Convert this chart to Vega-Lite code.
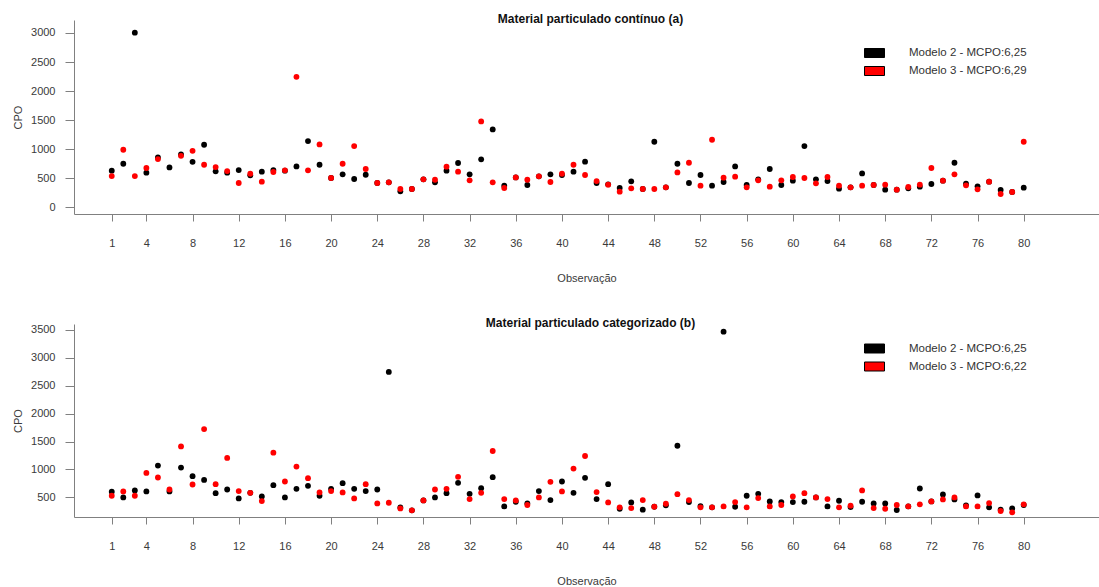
{
 "$schema": "https://vega.github.io/schema/vega-lite/v6.json",
 "padding": {"left": 12, "top": 13, "right": 0, "bottom": 0},
 "background": "white",
 "bounds": "flush",
 "spacing": 110,
 "config": {
  "view": {"stroke": null},
  "font": "Liberation Sans",
  "axis": {"grid": false, "domainColor": "#808080", "tickColor": "#808080", "labelColor": "#3a3a3a", "titleColor": "#3a3a3a", "labelFontSize": 11, "titleFontSize": 11, "titleFontWeight": "normal", "labelFont": "Liberation Sans", "titleFont": "Liberation Sans"},
  "title": {"fontSize": 12, "fontWeight": "bold", "font": "Liberation Sans", "color": "#111111"},
  "legend": {"title": null, "orient": "none", "padding": 0, "symbolType": "M-1,-0.45H1V0.45H-1Z", "symbolSize": 400, "symbolStrokeColor": "#000000", "symbolStrokeWidth": 1, "symbolOpacity": 1, "labelFontSize": 11.5, "labelColor": "#333333", "labelFont": "Liberation Sans", "labelOffset": 24, "rowPadding": 1}
 },
 "datasets": {
  "a": [
   {"o":1,"m":"Modelo 2 - MCPO:6,25","v":630},{"o":2,"m":"Modelo 2 - MCPO:6,25","v":750},{"o":3,"m":"Modelo 2 - MCPO:6,25","v":3005},{"o":4,"m":"Modelo 2 - MCPO:6,25","v":596},{"o":5,"m":"Modelo 2 - MCPO:6,25","v":859},{"o":6,"m":"Modelo 2 - MCPO:6,25","v":687},{"o":7,"m":"Modelo 2 - MCPO:6,25","v":910},{"o":8,"m":"Modelo 2 - MCPO:6,25","v":783},{"o":9,"m":"Modelo 2 - MCPO:6,25","v":1077},{"o":10,"m":"Modelo 2 - MCPO:6,25","v":619},
   {"o":11,"m":"Modelo 2 - MCPO:6,25","v":596},{"o":12,"m":"Modelo 2 - MCPO:6,25","v":641},{"o":13,"m":"Modelo 2 - MCPO:6,25","v":550},{"o":14,"m":"Modelo 2 - MCPO:6,25","v":613},{"o":15,"m":"Modelo 2 - MCPO:6,25","v":641},{"o":16,"m":"Modelo 2 - MCPO:6,25","v":630},{"o":17,"m":"Modelo 2 - MCPO:6,25","v":704},{"o":18,"m":"Modelo 2 - MCPO:6,25","v":1140},{"o":19,"m":"Modelo 2 - MCPO:6,25","v":733},{"o":20,"m":"Modelo 2 - MCPO:6,25","v":504},
   {"o":21,"m":"Modelo 2 - MCPO:6,25","v":567},{"o":22,"m":"Modelo 2 - MCPO:6,25","v":487},{"o":23,"m":"Modelo 2 - MCPO:6,25","v":561},{"o":24,"m":"Modelo 2 - MCPO:6,25","v":418},{"o":25,"m":"Modelo 2 - MCPO:6,25","v":430},{"o":26,"m":"Modelo 2 - MCPO:6,25","v":275},{"o":27,"m":"Modelo 2 - MCPO:6,25","v":315},{"o":28,"m":"Modelo 2 - MCPO:6,25","v":481},{"o":29,"m":"Modelo 2 - MCPO:6,25","v":430},{"o":30,"m":"Modelo 2 - MCPO:6,25","v":630},
   {"o":31,"m":"Modelo 2 - MCPO:6,25","v":762},{"o":32,"m":"Modelo 2 - MCPO:6,25","v":567},{"o":33,"m":"Modelo 2 - MCPO:6,25","v":825},{"o":34,"m":"Modelo 2 - MCPO:6,25","v":1340},{"o":35,"m":"Modelo 2 - MCPO:6,25","v":372},{"o":36,"m":"Modelo 2 - MCPO:6,25","v":515},{"o":37,"m":"Modelo 2 - MCPO:6,25","v":384},{"o":38,"m":"Modelo 2 - MCPO:6,25","v":533},{"o":39,"m":"Modelo 2 - MCPO:6,25","v":567},{"o":40,"m":"Modelo 2 - MCPO:6,25","v":556},
   {"o":41,"m":"Modelo 2 - MCPO:6,25","v":613},{"o":42,"m":"Modelo 2 - MCPO:6,25","v":785},{"o":43,"m":"Modelo 2 - MCPO:6,25","v":418},{"o":44,"m":"Modelo 2 - MCPO:6,25","v":395},{"o":45,"m":"Modelo 2 - MCPO:6,25","v":332},{"o":46,"m":"Modelo 2 - MCPO:6,25","v":447},{"o":47,"m":"Modelo 2 - MCPO:6,25","v":315},{"o":48,"m":"Modelo 2 - MCPO:6,25","v":1128},{"o":49,"m":"Modelo 2 - MCPO:6,25","v":344},{"o":50,"m":"Modelo 2 - MCPO:6,25","v":750},
   {"o":51,"m":"Modelo 2 - MCPO:6,25","v":418},{"o":52,"m":"Modelo 2 - MCPO:6,25","v":556},{"o":53,"m":"Modelo 2 - MCPO:6,25","v":372},{"o":54,"m":"Modelo 2 - MCPO:6,25","v":435},{"o":55,"m":"Modelo 2 - MCPO:6,25","v":704},{"o":56,"m":"Modelo 2 - MCPO:6,25","v":384},{"o":57,"m":"Modelo 2 - MCPO:6,25","v":481},{"o":58,"m":"Modelo 2 - MCPO:6,25","v":659},{"o":59,"m":"Modelo 2 - MCPO:6,25","v":384},{"o":60,"m":"Modelo 2 - MCPO:6,25","v":458},
   {"o":61,"m":"Modelo 2 - MCPO:6,25","v":1054},{"o":62,"m":"Modelo 2 - MCPO:6,25","v":481},{"o":63,"m":"Modelo 2 - MCPO:6,25","v":452},{"o":64,"m":"Modelo 2 - MCPO:6,25","v":321},{"o":65,"m":"Modelo 2 - MCPO:6,25","v":344},{"o":66,"m":"Modelo 2 - MCPO:6,25","v":584},{"o":67,"m":"Modelo 2 - MCPO:6,25","v":384},{"o":68,"m":"Modelo 2 - MCPO:6,25","v":304},{"o":69,"m":"Modelo 2 - MCPO:6,25","v":304},{"o":70,"m":"Modelo 2 - MCPO:6,25","v":326},
   {"o":71,"m":"Modelo 2 - MCPO:6,25","v":355},{"o":72,"m":"Modelo 2 - MCPO:6,25","v":401},{"o":73,"m":"Modelo 2 - MCPO:6,25","v":458},{"o":74,"m":"Modelo 2 - MCPO:6,25","v":767},{"o":75,"m":"Modelo 2 - MCPO:6,25","v":407},{"o":76,"m":"Modelo 2 - MCPO:6,25","v":361},{"o":77,"m":"Modelo 2 - MCPO:6,25","v":441},{"o":78,"m":"Modelo 2 - MCPO:6,25","v":298},{"o":79,"m":"Modelo 2 - MCPO:6,25","v":263},{"o":80,"m":"Modelo 2 - MCPO:6,25","v":338},
   {"o":1,"m":"Modelo 3 - MCPO:6,29","v":538},{"o":2,"m":"Modelo 3 - MCPO:6,29","v":991},{"o":3,"m":"Modelo 3 - MCPO:6,29","v":538},{"o":4,"m":"Modelo 3 - MCPO:6,29","v":676},{"o":5,"m":"Modelo 3 - MCPO:6,29","v":830},{"o":7,"m":"Modelo 3 - MCPO:6,29","v":886},{"o":8,"m":"Modelo 3 - MCPO:6,29","v":972},{"o":9,"m":"Modelo 3 - MCPO:6,29","v":733},{"o":10,"m":"Modelo 3 - MCPO:6,29","v":693},
   {"o":11,"m":"Modelo 3 - MCPO:6,29","v":624},{"o":12,"m":"Modelo 3 - MCPO:6,29","v":418},{"o":13,"m":"Modelo 3 - MCPO:6,29","v":578},{"o":14,"m":"Modelo 3 - MCPO:6,29","v":441},{"o":15,"m":"Modelo 3 - MCPO:6,29","v":607},{"o":16,"m":"Modelo 3 - MCPO:6,29","v":636},{"o":17,"m":"Modelo 3 - MCPO:6,29","v":2245},{"o":18,"m":"Modelo 3 - MCPO:6,29","v":636},{"o":19,"m":"Modelo 3 - MCPO:6,29","v":1082},{"o":20,"m":"Modelo 3 - MCPO:6,29","v":504},
   {"o":21,"m":"Modelo 3 - MCPO:6,29","v":750},{"o":22,"m":"Modelo 3 - MCPO:6,29","v":1054},{"o":23,"m":"Modelo 3 - MCPO:6,29","v":659},{"o":24,"m":"Modelo 3 - MCPO:6,29","v":418},{"o":25,"m":"Modelo 3 - MCPO:6,29","v":430},{"o":26,"m":"Modelo 3 - MCPO:6,29","v":315},{"o":27,"m":"Modelo 3 - MCPO:6,29","v":315},{"o":28,"m":"Modelo 3 - MCPO:6,29","v":481},{"o":29,"m":"Modelo 3 - MCPO:6,29","v":475},{"o":30,"m":"Modelo 3 - MCPO:6,29","v":699},
   {"o":31,"m":"Modelo 3 - MCPO:6,29","v":613},{"o":32,"m":"Modelo 3 - MCPO:6,29","v":464},{"o":33,"m":"Modelo 3 - MCPO:6,29","v":1478},{"o":34,"m":"Modelo 3 - MCPO:6,29","v":430},{"o":35,"m":"Modelo 3 - MCPO:6,29","v":332},{"o":36,"m":"Modelo 3 - MCPO:6,29","v":515},{"o":37,"m":"Modelo 3 - MCPO:6,29","v":475},{"o":38,"m":"Modelo 3 - MCPO:6,29","v":533},{"o":39,"m":"Modelo 3 - MCPO:6,29","v":435},{"o":40,"m":"Modelo 3 - MCPO:6,29","v":578},
   {"o":41,"m":"Modelo 3 - MCPO:6,29","v":733},{"o":42,"m":"Modelo 3 - MCPO:6,29","v":556},{"o":43,"m":"Modelo 3 - MCPO:6,29","v":452},{"o":44,"m":"Modelo 3 - MCPO:6,29","v":389},{"o":45,"m":"Modelo 3 - MCPO:6,29","v":269},{"o":46,"m":"Modelo 3 - MCPO:6,29","v":326},{"o":47,"m":"Modelo 3 - MCPO:6,29","v":315},{"o":48,"m":"Modelo 3 - MCPO:6,29","v":315},{"o":49,"m":"Modelo 3 - MCPO:6,29","v":344},{"o":50,"m":"Modelo 3 - MCPO:6,29","v":601},
   {"o":51,"m":"Modelo 3 - MCPO:6,29","v":767},{"o":52,"m":"Modelo 3 - MCPO:6,29","v":372},{"o":53,"m":"Modelo 3 - MCPO:6,29","v":1163},{"o":54,"m":"Modelo 3 - MCPO:6,29","v":510},{"o":55,"m":"Modelo 3 - MCPO:6,29","v":527},{"o":56,"m":"Modelo 3 - MCPO:6,29","v":344},{"o":57,"m":"Modelo 3 - MCPO:6,29","v":464},{"o":58,"m":"Modelo 3 - MCPO:6,29","v":355},{"o":59,"m":"Modelo 3 - MCPO:6,29","v":464},{"o":60,"m":"Modelo 3 - MCPO:6,29","v":521},
   {"o":61,"m":"Modelo 3 - MCPO:6,29","v":504},{"o":62,"m":"Modelo 3 - MCPO:6,29","v":412},{"o":63,"m":"Modelo 3 - MCPO:6,29","v":521},{"o":64,"m":"Modelo 3 - MCPO:6,29","v":372},{"o":65,"m":"Modelo 3 - MCPO:6,29","v":344},{"o":66,"m":"Modelo 3 - MCPO:6,29","v":372},{"o":67,"m":"Modelo 3 - MCPO:6,29","v":384},{"o":68,"m":"Modelo 3 - MCPO:6,29","v":389},{"o":69,"m":"Modelo 3 - MCPO:6,29","v":304},{"o":70,"m":"Modelo 3 - MCPO:6,29","v":349},
   {"o":71,"m":"Modelo 3 - MCPO:6,29","v":389},{"o":72,"m":"Modelo 3 - MCPO:6,29","v":676},{"o":73,"m":"Modelo 3 - MCPO:6,29","v":458},{"o":74,"m":"Modelo 3 - MCPO:6,29","v":567},{"o":75,"m":"Modelo 3 - MCPO:6,29","v":378},{"o":76,"m":"Modelo 3 - MCPO:6,29","v":309},{"o":77,"m":"Modelo 3 - MCPO:6,29","v":441},{"o":78,"m":"Modelo 3 - MCPO:6,29","v":229},{"o":79,"m":"Modelo 3 - MCPO:6,29","v":263},{"o":80,"m":"Modelo 3 - MCPO:6,29","v":1128}
  ],
  "b": [
   {"o":1,"m":"Modelo 2 - MCPO:6,25","v":601},{"o":2,"m":"Modelo 2 - MCPO:6,25","v":500},{"o":3,"m":"Modelo 2 - MCPO:6,25","v":625},{"o":4,"m":"Modelo 2 - MCPO:6,25","v":607},{"o":5,"m":"Modelo 2 - MCPO:6,25","v":1069},{"o":6,"m":"Modelo 2 - MCPO:6,25","v":607},{"o":7,"m":"Modelo 2 - MCPO:6,25","v":1034},{"o":8,"m":"Modelo 2 - MCPO:6,25","v":880},{"o":9,"m":"Modelo 2 - MCPO:6,25","v":814},{"o":10,"m":"Modelo 2 - MCPO:6,25","v":577},
   {"o":11,"m":"Modelo 2 - MCPO:6,25","v":642},{"o":12,"m":"Modelo 2 - MCPO:6,25","v":482},{"o":13,"m":"Modelo 2 - MCPO:6,25","v":583},{"o":14,"m":"Modelo 2 - MCPO:6,25","v":518},{"o":15,"m":"Modelo 2 - MCPO:6,25","v":719},{"o":16,"m":"Modelo 2 - MCPO:6,25","v":500},{"o":17,"m":"Modelo 2 - MCPO:6,25","v":654},{"o":18,"m":"Modelo 2 - MCPO:6,25","v":708},{"o":19,"m":"Modelo 2 - MCPO:6,25","v":530},{"o":20,"m":"Modelo 2 - MCPO:6,25","v":654},
   {"o":21,"m":"Modelo 2 - MCPO:6,25","v":755},{"o":22,"m":"Modelo 2 - MCPO:6,25","v":654},{"o":23,"m":"Modelo 2 - MCPO:6,25","v":613},{"o":24,"m":"Modelo 2 - MCPO:6,25","v":642},{"o":25,"m":"Modelo 2 - MCPO:6,25","v":2745},{"o":26,"m":"Modelo 2 - MCPO:6,25","v":322},{"o":27,"m":"Modelo 2 - MCPO:6,25","v":269},{"o":28,"m":"Modelo 2 - MCPO:6,25","v":447},{"o":29,"m":"Modelo 2 - MCPO:6,25","v":500},{"o":30,"m":"Modelo 2 - MCPO:6,25","v":577},
   {"o":31,"m":"Modelo 2 - MCPO:6,25","v":761},{"o":32,"m":"Modelo 2 - MCPO:6,25","v":565},{"o":33,"m":"Modelo 2 - MCPO:6,25","v":666},{"o":34,"m":"Modelo 2 - MCPO:6,25","v":862},{"o":35,"m":"Modelo 2 - MCPO:6,25","v":340},{"o":36,"m":"Modelo 2 - MCPO:6,25","v":423},{"o":37,"m":"Modelo 2 - MCPO:6,25","v":393},{"o":38,"m":"Modelo 2 - MCPO:6,25","v":613},{"o":39,"m":"Modelo 2 - MCPO:6,25","v":453},{"o":40,"m":"Modelo 2 - MCPO:6,25","v":785},
   {"o":41,"m":"Modelo 2 - MCPO:6,25","v":583},{"o":42,"m":"Modelo 2 - MCPO:6,25","v":850},{"o":43,"m":"Modelo 2 - MCPO:6,25","v":470},{"o":44,"m":"Modelo 2 - MCPO:6,25","v":737},{"o":45,"m":"Modelo 2 - MCPO:6,25","v":298},{"o":46,"m":"Modelo 2 - MCPO:6,25","v":411},{"o":47,"m":"Modelo 2 - MCPO:6,25","v":281},{"o":48,"m":"Modelo 2 - MCPO:6,25","v":334},{"o":49,"m":"Modelo 2 - MCPO:6,25","v":358},{"o":50,"m":"Modelo 2 - MCPO:6,25","v":1425},
   {"o":51,"m":"Modelo 2 - MCPO:6,25","v":417},{"o":52,"m":"Modelo 2 - MCPO:6,25","v":346},{"o":53,"m":"Modelo 2 - MCPO:6,25","v":322},{"o":54,"m":"Modelo 2 - MCPO:6,25","v":3465},{"o":55,"m":"Modelo 2 - MCPO:6,25","v":334},{"o":56,"m":"Modelo 2 - MCPO:6,25","v":530},{"o":57,"m":"Modelo 2 - MCPO:6,25","v":565},{"o":58,"m":"Modelo 2 - MCPO:6,25","v":429},{"o":59,"m":"Modelo 2 - MCPO:6,25","v":417},{"o":60,"m":"Modelo 2 - MCPO:6,25","v":417},
   {"o":61,"m":"Modelo 2 - MCPO:6,25","v":423},{"o":62,"m":"Modelo 2 - MCPO:6,25","v":500},{"o":63,"m":"Modelo 2 - MCPO:6,25","v":340},{"o":64,"m":"Modelo 2 - MCPO:6,25","v":441},{"o":65,"m":"Modelo 2 - MCPO:6,25","v":328},{"o":66,"m":"Modelo 2 - MCPO:6,25","v":423},{"o":67,"m":"Modelo 2 - MCPO:6,25","v":393},{"o":68,"m":"Modelo 2 - MCPO:6,25","v":393},{"o":69,"m":"Modelo 2 - MCPO:6,25","v":275},{"o":70,"m":"Modelo 2 - MCPO:6,25","v":340},
   {"o":71,"m":"Modelo 2 - MCPO:6,25","v":660},{"o":72,"m":"Modelo 2 - MCPO:6,25","v":429},{"o":73,"m":"Modelo 2 - MCPO:6,25","v":553},{"o":74,"m":"Modelo 2 - MCPO:6,25","v":464},{"o":75,"m":"Modelo 2 - MCPO:6,25","v":358},{"o":76,"m":"Modelo 2 - MCPO:6,25","v":536},{"o":77,"m":"Modelo 2 - MCPO:6,25","v":322},{"o":78,"m":"Modelo 2 - MCPO:6,25","v":281},{"o":79,"m":"Modelo 2 - MCPO:6,25","v":304},{"o":80,"m":"Modelo 2 - MCPO:6,25","v":364},
   {"o":1,"m":"Modelo 3 - MCPO:6,22","v":530},{"o":2,"m":"Modelo 3 - MCPO:6,22","v":607},{"o":3,"m":"Modelo 3 - MCPO:6,22","v":530},{"o":4,"m":"Modelo 3 - MCPO:6,22","v":939},{"o":5,"m":"Modelo 3 - MCPO:6,22","v":856},{"o":6,"m":"Modelo 3 - MCPO:6,22","v":642},{"o":7,"m":"Modelo 3 - MCPO:6,22","v":1413},{"o":8,"m":"Modelo 3 - MCPO:6,22","v":731},{"o":9,"m":"Modelo 3 - MCPO:6,22","v":1722},{"o":10,"m":"Modelo 3 - MCPO:6,22","v":737},
   {"o":11,"m":"Modelo 3 - MCPO:6,22","v":1206},{"o":12,"m":"Modelo 3 - MCPO:6,22","v":613},{"o":13,"m":"Modelo 3 - MCPO:6,22","v":583},{"o":14,"m":"Modelo 3 - MCPO:6,22","v":435},{"o":15,"m":"Modelo 3 - MCPO:6,22","v":1301},{"o":16,"m":"Modelo 3 - MCPO:6,22","v":785},{"o":17,"m":"Modelo 3 - MCPO:6,22","v":1052},{"o":18,"m":"Modelo 3 - MCPO:6,22","v":844},{"o":19,"m":"Modelo 3 - MCPO:6,22","v":589},{"o":20,"m":"Modelo 3 - MCPO:6,22","v":613},
   {"o":21,"m":"Modelo 3 - MCPO:6,22","v":589},{"o":22,"m":"Modelo 3 - MCPO:6,22","v":482},{"o":23,"m":"Modelo 3 - MCPO:6,22","v":737},{"o":24,"m":"Modelo 3 - MCPO:6,22","v":393},{"o":25,"m":"Modelo 3 - MCPO:6,22","v":405},{"o":26,"m":"Modelo 3 - MCPO:6,22","v":304},{"o":27,"m":"Modelo 3 - MCPO:6,22","v":269},{"o":28,"m":"Modelo 3 - MCPO:6,22","v":447},{"o":29,"m":"Modelo 3 - MCPO:6,22","v":642},{"o":30,"m":"Modelo 3 - MCPO:6,22","v":654},
   {"o":31,"m":"Modelo 3 - MCPO:6,22","v":868},{"o":32,"m":"Modelo 3 - MCPO:6,22","v":470},{"o":33,"m":"Modelo 3 - MCPO:6,22","v":583},{"o":34,"m":"Modelo 3 - MCPO:6,22","v":1330},{"o":35,"m":"Modelo 3 - MCPO:6,22","v":470},{"o":36,"m":"Modelo 3 - MCPO:6,22","v":447},{"o":37,"m":"Modelo 3 - MCPO:6,22","v":364},{"o":38,"m":"Modelo 3 - MCPO:6,22","v":500},{"o":39,"m":"Modelo 3 - MCPO:6,22","v":779},{"o":40,"m":"Modelo 3 - MCPO:6,22","v":607},
   {"o":41,"m":"Modelo 3 - MCPO:6,22","v":1016},{"o":42,"m":"Modelo 3 - MCPO:6,22","v":1241},{"o":43,"m":"Modelo 3 - MCPO:6,22","v":595},{"o":44,"m":"Modelo 3 - MCPO:6,22","v":411},{"o":45,"m":"Modelo 3 - MCPO:6,22","v":322},{"o":46,"m":"Modelo 3 - MCPO:6,22","v":310},{"o":47,"m":"Modelo 3 - MCPO:6,22","v":453},{"o":48,"m":"Modelo 3 - MCPO:6,22","v":334},{"o":49,"m":"Modelo 3 - MCPO:6,22","v":387},{"o":50,"m":"Modelo 3 - MCPO:6,22","v":559},
   {"o":51,"m":"Modelo 3 - MCPO:6,22","v":453},{"o":52,"m":"Modelo 3 - MCPO:6,22","v":322},{"o":53,"m":"Modelo 3 - MCPO:6,22","v":322},{"o":54,"m":"Modelo 3 - MCPO:6,22","v":340},{"o":55,"m":"Modelo 3 - MCPO:6,22","v":417},{"o":56,"m":"Modelo 3 - MCPO:6,22","v":322},{"o":57,"m":"Modelo 3 - MCPO:6,22","v":488},{"o":58,"m":"Modelo 3 - MCPO:6,22","v":340},{"o":59,"m":"Modelo 3 - MCPO:6,22","v":364},{"o":60,"m":"Modelo 3 - MCPO:6,22","v":518},
   {"o":61,"m":"Modelo 3 - MCPO:6,22","v":577},{"o":62,"m":"Modelo 3 - MCPO:6,22","v":500},{"o":63,"m":"Modelo 3 - MCPO:6,22","v":470},{"o":64,"m":"Modelo 3 - MCPO:6,22","v":322},{"o":65,"m":"Modelo 3 - MCPO:6,22","v":352},{"o":66,"m":"Modelo 3 - MCPO:6,22","v":625},{"o":67,"m":"Modelo 3 - MCPO:6,22","v":310},{"o":68,"m":"Modelo 3 - MCPO:6,22","v":298},{"o":69,"m":"Modelo 3 - MCPO:6,22","v":364},{"o":70,"m":"Modelo 3 - MCPO:6,22","v":340},
   {"o":71,"m":"Modelo 3 - MCPO:6,22","v":376},{"o":72,"m":"Modelo 3 - MCPO:6,22","v":429},{"o":73,"m":"Modelo 3 - MCPO:6,22","v":464},{"o":74,"m":"Modelo 3 - MCPO:6,22","v":500},{"o":75,"m":"Modelo 3 - MCPO:6,22","v":340},{"o":76,"m":"Modelo 3 - MCPO:6,22","v":340},{"o":77,"m":"Modelo 3 - MCPO:6,22","v":399},{"o":78,"m":"Modelo 3 - MCPO:6,22","v":257},{"o":79,"m":"Modelo 3 - MCPO:6,22","v":233},{"o":80,"m":"Modelo 3 - MCPO:6,22","v":376}
  ]
 },
 "vconcat": [
  {
   "width": 1025, "height": 194,
   "data": {"name": "a"},
   "title": {"text": "Material particulado contínuo (a)", "anchor": "middle", "frame": "group", "baseline": "alphabetic", "offset": -15, "dx": 4},
   "mark": {"type": "circle", "size": 34, "opacity": 1},
   "encoding": {
    "x": {"field": "o", "type": "quantitative", "scale": {"domain": [-2.27, 86.52], "nice": false, "zero": false},
          "axis": {"values": [1,4,8,12,16,20,24,28,32,36,40,44,48,52,56,60,64,68,72,76,80], "title": "Observação", "tickSize": 7, "labelPadding": 16, "titlePadding": 24}},
    "y": {"field": "v", "type": "quantitative", "scale": {"domain": [-115, 3223], "nice": false, "zero": false},
          "axis": {"values": [0,500,1000,1500,2000,2500,3000], "format": "d", "title": "CPO", "tickSize": 9, "labelPadding": 10, "titlePadding": 7}},
    "color": {"field": "m", "type": "nominal", "scale": {"domain": ["Modelo 2 - MCPO:6,25", "Modelo 3 - MCPO:6,29"], "range": ["#000000", "#ff0000"]},
              "legend": {"legendX": 790, "legendY": 22.5}}
   }
  },
  {
   "width": 1025, "height": 193,
   "data": {"name": "b"},
   "title": {"text": "Material particulado categorizado (b)", "anchor": "middle", "frame": "group", "baseline": "alphabetic", "offset": -15, "dx": 4},
   "mark": {"type": "circle", "size": 34, "opacity": 1},
   "encoding": {
    "x": {"field": "o", "type": "quantitative", "scale": {"domain": [-2.27, 86.52], "nice": false, "zero": false},
          "axis": {"values": [1,4,8,12,16,20,24,28,32,36,40,44,48,52,56,60,64,68,72,76,80], "title": "Observação", "tickSize": 7, "labelPadding": 16, "titlePadding": 24}},
    "y": {"field": "v", "type": "quantitative", "scale": {"domain": [150, 3602], "nice": false, "zero": false},
          "axis": {"values": [500,1000,1500,2000,2500,3000,3500], "format": "d", "title": "CPO", "tickSize": 9, "labelPadding": 10, "titlePadding": 7}},
    "color": {"field": "m", "type": "nominal", "scale": {"domain": ["Modelo 2 - MCPO:6,25", "Modelo 3 - MCPO:6,22"], "range": ["#000000", "#ff0000"]},
              "legend": {"legendX": 790, "legendY": 14}}
   }
  }
 ],
 "resolve": {"scale": {"color": "independent", "x": "independent", "y": "independent"}, "legend": {"color": "independent"}}
}
